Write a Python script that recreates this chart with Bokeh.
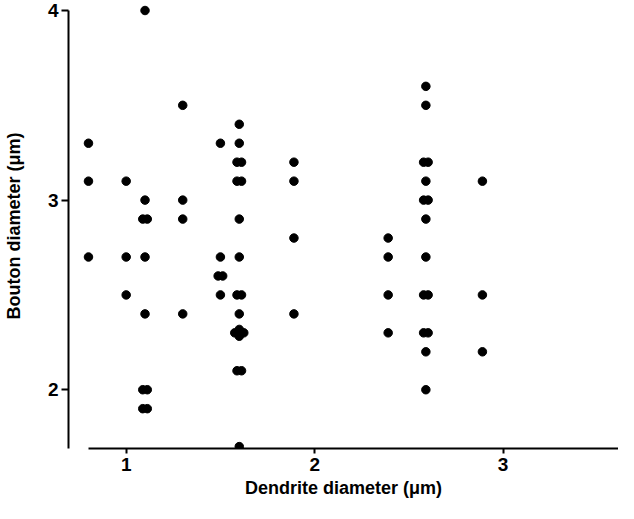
from bokeh.plotting import figure
from bokeh.models import Range1d, FixedTicker
from bokeh.embed import file_html
from bokeh.resources import INLINE

# Dendrite diameter (um) and bouton diameter (um).
# Overlapping points are given with slightly different values so they show as in the original.
dendrite = [
    0.80, 0.80, 0.80,
    1.00, 1.00, 1.00,
    1.10, 1.10, 1.088, 1.112, 1.10, 1.10, 1.088, 1.112, 1.088, 1.112,
    1.30, 1.30, 1.30, 1.30,
    1.50, 1.50, 1.488, 1.512, 1.50,
    1.60, 1.60, 1.588, 1.612, 1.588, 1.612, 1.60, 1.60, 1.588, 1.612, 1.60,
    1.576, 1.624, 1.60, 1.60, 1.588, 1.612, 1.60,
    1.89, 1.89, 1.89, 1.89,
    2.39, 2.39, 2.39, 2.39,
    2.59, 2.59, 2.578, 2.602, 2.59, 2.578, 2.602, 2.59, 2.59, 2.578, 2.602,
    2.578, 2.602, 2.59, 2.59,
    2.89, 2.89, 2.89,
]
bouton = [
    3.3, 3.1, 2.7,
    3.1, 2.7, 2.5,
    4.0, 3.0, 2.9, 2.9, 2.7, 2.4, 2.0, 2.0, 1.9, 1.9,
    3.5, 3.0, 2.9, 2.4,
    3.3, 2.7, 2.6, 2.6, 2.5,
    3.4, 3.3, 3.2, 3.2, 3.1, 3.1, 2.9, 2.7, 2.5, 2.5, 2.4,
    2.3, 2.3, 2.318, 2.282, 2.1, 2.1, 1.7,
    3.2, 3.1, 2.8, 2.4,
    2.8, 2.7, 2.5, 2.3,
    3.6, 3.5, 3.2, 3.2, 3.1, 3.0, 3.0, 2.9, 2.7, 2.5, 2.5,
    2.3, 2.3, 2.2, 2.0,
    3.1, 2.5, 2.2,
]
x_ticks = [1, 2, 3]
y_ticks = [2, 3, 4]
x_title = "Dendrite diameter (μm)"
y_title = "Bouton diameter (μm)"

FONT = "Liberation Sans"

p = figure(width=618, height=503, output_backend="svg", toolbar_location=None,
           x_range=Range1d(0.694, 3.612), y_range=Range1d(1.69, 4.037),
           min_border_left=65, min_border_top=3, min_border_bottom=55,
           min_border_right=0)
p.outline_line_color = None
p.grid.visible = False
p.background_fill_color = "white"
p.border_fill_color = "white"

p.scatter(dendrite, bouton, size=8.5, color="black", line_color="black")

xa = p.xaxis[0]
xa.ticker = FixedTicker(ticks=x_ticks, minor_ticks=[])
xa.bounds = (0.8, 3.612)
xa.axis_line_width = 2
xa.major_tick_line_width = 2
xa.major_tick_in = 0
xa.major_tick_out = 5
xa.major_label_standoff = 4
xa.major_label_text_font = FONT
xa.major_label_text_font_size = "19px"
xa.major_label_text_font_style = "bold"
xa.major_label_text_line_height = 1.0
xa.major_label_text_color = "black"
xa.axis_label = x_title
xa.axis_label_text_font = FONT
xa.axis_label_text_font_size = "18px"
xa.axis_label_text_font_style = "bold"
xa.axis_label_text_line_height = 1.0
xa.axis_label_text_color = "black"
xa.axis_label_standoff = 4

ya = p.yaxis[0]
ya.ticker = FixedTicker(ticks=y_ticks, minor_ticks=[])
ya.bounds = (1.69, 4.0)
ya.axis_line_width = 2
ya.major_tick_line_width = 2
ya.major_tick_in = 0
ya.major_tick_out = 7
ya.major_label_standoff = 3
ya.major_label_text_font = FONT
ya.major_label_text_font_size = "19px"
ya.major_label_text_font_style = "bold"
ya.major_label_text_line_height = 1.0
ya.major_label_text_color = "black"
ya.axis_label = y_title
ya.axis_label_text_font = FONT
ya.axis_label_text_font_size = "18px"
ya.axis_label_text_font_style = "bold"
ya.axis_label_text_line_height = 1.0
ya.axis_label_text_color = "black"
ya.axis_label_standoff = 21

open("out.html", "w").write(file_html(p, INLINE))
